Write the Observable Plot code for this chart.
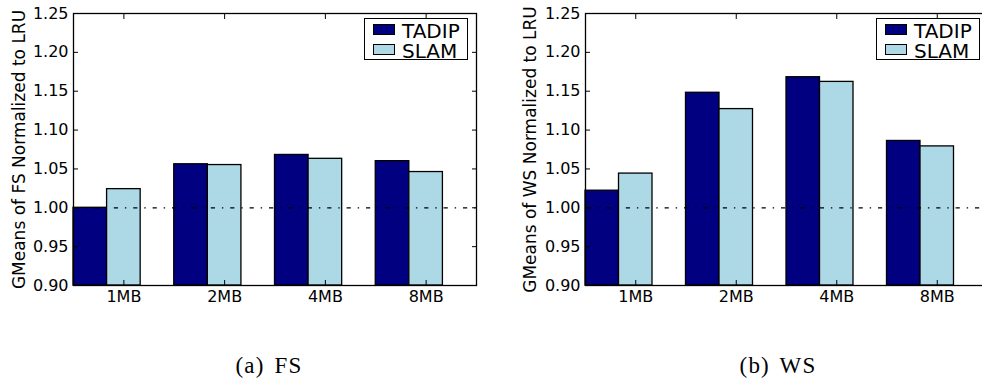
<!DOCTYPE html>
<html>
<head>
<meta charset="utf-8">
<script src="https://cdn.jsdelivr.net/npm/d3@7"></script>
<script src="https://cdn.jsdelivr.net/npm/@observablehq/plot@0.6"></script>
<style>
  html, body { margin: 0; padding: 0; background: #fff; }
  #root { position: relative; width: 982px; height: 381px; overflow: hidden; background: #fff; }
  .panel { position: absolute; top: 0; }
  .legend { position: absolute; border: 1.3px solid #000; background: #fff; box-sizing: border-box; }
  .sw { position: absolute; border: 1.3px solid #000; box-sizing: border-box; }
  .lt { position: absolute; font-family: "DejaVu Sans", sans-serif; font-size: 20px; line-height: 18px; color: #000; white-space: nowrap; }
  .cap { position: absolute; font-family: "Liberation Serif", serif; font-size: 23px; line-height: 22px; letter-spacing: 1.2px; word-spacing: 3px; text-align: center; width: 200px; color: #000; }
</style>
</head>
<body>
<div id="root"></div>
<script>
// ---- data ----
const categories = ["1MB", "2MB", "4MB", "8MB"];
const seriesNames = ["TADIP", "SLAM"];
const seriesColors = ["#000080", "#add8e6"];
const fsTadip = [1.000, 1.056, 1.068, 1.060];
const fsSlam  = [1.024, 1.055, 1.063, 1.046];
const wsTadip = [1.022, 1.148, 1.168, 1.086];
const wsSlam  = [1.044, 1.127, 1.162, 1.079];
const yTicks = [0.90, 0.95, 1.00, 1.05, 1.10, 1.15, 1.20, 1.25];
const referenceLine = 1.00;
const yLabels = ["GMeans of FS Normalized to LRU", "GMeans of WS Normalized to LRU"];
const captions = ["(a) FS", "(b) WS"];

const root = document.getElementById("root");
const barWidth = 1 / 3;
const xTicks = categories.map((c, i) => i + 0.5);

function makeRows(tadip, slam) {
  const rows = [];
  [tadip, slam].forEach((vals, s) => {
    vals.forEach((v, i) => {
      rows.push({cat: categories[i], series: seriesNames[s], x1: i + s * barWidth, x2: i + (s + 1) * barWidth, value: v});
    });
  });
  return rows;
}

function panel(tadip, slam, yLabel, opts) {
  const rows = makeRows(tadip, slam);
  const base = yTicks[0];
  return Plot.plot({
    width: opts.width,
    height: 310,
    marginLeft: opts.marginLeft,
    marginRight: opts.marginRight,
    marginTop: 13,
    marginBottom: 25,
    style: {background: "white", maxWidth: "none", overflow: "visible", fontFamily: "DejaVu Sans, sans-serif", fontSize: "16px", color: "black"},
    x: {domain: [0, categories.length]},
    y: {domain: [yTicks[0], yTicks[yTicks.length - 1]]},
    color: {domain: seriesNames, range: seriesColors},
    marks: [
      Plot.rect(rows, {x1: "x1", x2: "x2", y1: () => base, y2: "value", fill: "series", stroke: "black", strokeWidth: 1.3}),
      Plot.ruleY([referenceLine], {stroke: "black", strokeWidth: 1.2, strokeDasharray: "4.2,6.9,1.4,6.9", strokeDashoffset: opts.dashOffset}),
      Plot.frame({stroke: "black", strokeWidth: 1.3}),
      // inward ticks
      Plot.axisY({anchor: "left", ticks: yTicks, tickSize: 5, dx: 5, fill: "none", label: null}),
      Plot.axisY({anchor: "right", ticks: yTicks, tickSize: 5, dx: -5, fill: "none", label: null}),
      Plot.axisX({anchor: "bottom", ticks: xTicks, tickSize: 5, dy: -5, fill: "none", label: null}),
      Plot.axisX({anchor: "top", ticks: xTicks, tickSize: 5, dy: 5, fill: "none", label: null}),
      // labels
      Plot.axisY({anchor: "left", ticks: yTicks, tickSize: 0, tickPadding: 5, tickFormat: d3.format(".2f"), label: null}),
      Plot.axisX({anchor: "bottom", ticks: xTicks, tickSize: 0, tickPadding: 5, tickFormat: d => categories[Math.floor(d)], label: null}),
      Plot.text([yLabel], {frameAnchor: "left", textAnchor: "middle", lineAnchor: "middle", rotate: -90, dx: opts.labelDx, fontSize: 17, text: d => d})
    ]
  });
}

function legend(container, left, top) {
  const box = document.createElement("div");
  box.className = "legend";
  box.style.left = left + "px";
  box.style.top = top + "px";
  box.style.width = "104px";
  box.style.height = "42px";
  seriesNames.forEach((name, s) => {
    const sw = document.createElement("div");
    sw.className = "sw";
    sw.style.left = "8px";
    sw.style.top = (5 + s * 20) + "px";
    sw.style.width = "22px";
    sw.style.height = "11px";
    sw.style.background = seriesColors[s];
    box.appendChild(sw);
    const t = document.createElement("div");
    t.className = "lt";
    t.style.left = "37px";
    t.style.top = (2.5 + s * 20.5) + "px";
    t.textContent = name;
    box.appendChild(t);
  });
  container.appendChild(box);
}

const panels = [
  {tadip: fsTadip, slam: fsSlam, left: 0, width: 491, marginLeft: 73, marginRight: 15, labelDx: -54, dashOffset: -2, capCenter: 269},
  {tadip: wsTadip, slam: wsSlam, left: 491, width: 496, marginLeft: 94, marginRight: 0, labelDx: -55, dashOffset: -2, capCenter: 778}
];

panels.forEach((p, k) => {
  const wrap = document.createElement("div");
  wrap.className = "panel";
  wrap.style.left = p.left + "px";
  wrap.style.width = p.width + "px";
  wrap.style.height = "310px";
  wrap.appendChild(panel(p.tadip, p.slam, yLabels[k], p));
  legend(wrap, p.marginLeft + 291, 18);
  root.appendChild(wrap);

  const cap = document.createElement("div");
  cap.className = "cap";
  cap.style.left = (p.capCenter - 100) + "px";
  cap.style.top = "355px";
  cap.textContent = captions[k];
  root.appendChild(cap);
});
</script>
</body>
</html>
